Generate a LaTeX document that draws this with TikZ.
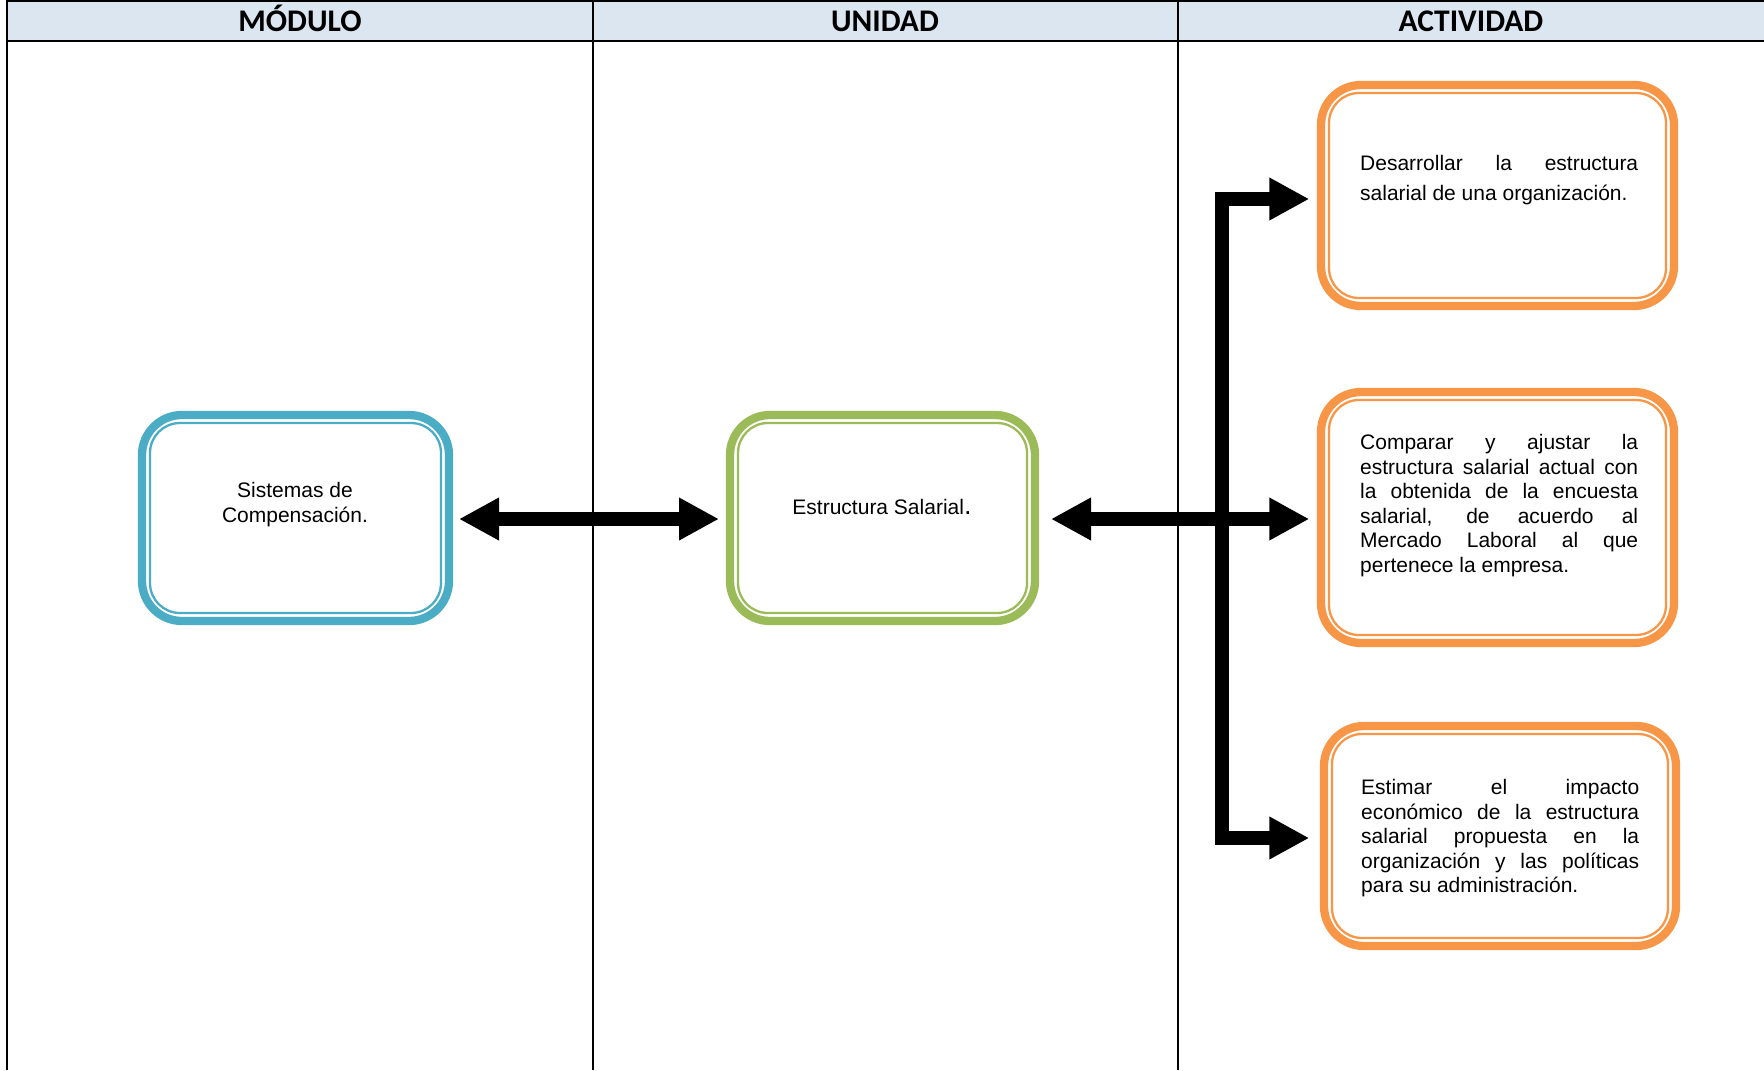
\documentclass[tikz,border=0pt]{standalone}
\usepackage{fontspec}
\setmainfont{Liberation Sans}
\newfontfamily\hdrfont{Carlito}
\usetikzlibrary{arrows.meta,calc}
\definecolor{hdrblue}{RGB}{220,230,241}
\definecolor{cblue}{RGB}{75,172,198}
\definecolor{cgreen}{RGB}{155,187,89}
\definecolor{corange}{RGB}{247,150,70}
\tikzset{
  gridline/.style={draw=black, line width=2bp},
  hdrtext/.style={anchor=base, inner sep=0, font=\hdrfont\bfseries\fontsize{31.5bp}{34bp}\selectfont},
  boxouter/.style={rectangle, rounded corners=40bp, line width=8.3bp, inner sep=0, outer sep=0, fill=white},
  boxinner/.style={rounded corners=30bp, line width=2.3bp},
  bodytext/.style={inner sep=0, font=\fontsize{21bp}{24.5bp}\selectfont},
  jtext/.style={bodytext, anchor=north west, text width=278bp, align=justify},
  bigarrow/.style={line width=13.8bp, line join=miter, {Triangle[length=40bp,width=40bp]}-{Triangle[length=40bp,width=40bp]}},
  onearrow/.style={line width=14.3bp, line join=miter, -{Triangle[length=40bp,width=40bp]}}
}
\newcommand\mybox[5]{%
  \node[boxouter, draw=#2, minimum width=#4bp, minimum height=#5bp] (#1) at #3 {};
  \draw[boxinner, draw=#2] ($(#1.north west)+(8,8)$) rectangle ($(#1.south east)+(-8,-8)$);
}
\begin{document}
\begin{tikzpicture}[x=1bp,y=-1bp]
\useasboundingbox (0,0) rectangle (1764,1070);
% table
\fill[hdrblue] (6.5,1) rectangle (1764,41);
\draw[gridline] (6.5,1) -- (1764,1);
\draw[gridline, line width=2.5bp] (6.5,41) -- (1764,41);
\draw[gridline] (6.5,0) -- (6.5,1070);
\draw[gridline] (593,0) -- (593,1070);
\draw[gridline] (1178,0) -- (1178,1070);
\node[hdrtext] (h1) at (300,31) {MÓDULO};
\node[hdrtext] (h2) at (885,31) {UNIDAD};
\node[hdrtext] (h3) at (1471,31) {ACTIVIDAD};
% boxes
\mybox{mod}{cblue}{(295.5,518)}{307}{206}
\mybox{uni}{cgreen}{(882.5,518)}{305}{206}
\mybox{oa}{corange}{(1497.5,195.5)}{353}{221}
\mybox{ob}{corange}{(1497.5,517.5)}{353}{251}
\mybox{oc}{corange}{(1500,836)}{352}{220}
% texts
\node[bodytext, anchor=north, align=center, font=\fontsize{21bp}{25bp}\selectfont] (tmod) at (295,481.5) {\rule{0pt}{16bp}Sistemas de\\Compensación.};
\node[bodytext, anchor=base] (tuni) at (882,514.5) {Estructura Salarial{\fontsize{27bp}{27bp}\selectfont .}};
\node[jtext, font=\fontsize{21bp}{30bp}\selectfont] (ta) at (1360,154.5) {\rule{0pt}{16bp}Desarrollar la estructura\linebreak salarial de una organización.};
\node[jtext] (tb) at (1360,433.5) {\rule{0pt}{16bp}Comparar y ajustar la\linebreak estructura salarial actual con\linebreak la obtenida de la encuesta\linebreak salarial, de acuerdo al\linebreak Mercado Laboral al que\linebreak pertenece la empresa.};
\node[jtext] (tc) at (1361,778.5) {\rule{0pt}{16bp}Estimar el impacto\linebreak económico de la estructura\linebreak salarial propuesta en la\linebreak organización y las políticas\linebreak para su administración.};
% connectors
\coordinate (bar) at (1222,519);
\draw[bigarrow, shorten <=10bp, shorten >=11bp] ([yshift=-1bp]mod.east) -- ([yshift=-1bp]uni.west);
\draw[bigarrow, shorten <=16bp, shorten >=11.7bp] ([yshift=-1bp]uni.east) -- ([yshift=-1bp]uni.east -| ob.west);
\draw[onearrow, {Triangle[length=40bp,width=40bp]}-{Triangle[length=40bp,width=40bp]}, shorten <=11.7bp, shorten >=14.7bp]
  ([yshift=-3.5bp]oa.west) -| (bar) |- ([yshift=-2bp]oc.west);
\end{tikzpicture}
\end{document}
